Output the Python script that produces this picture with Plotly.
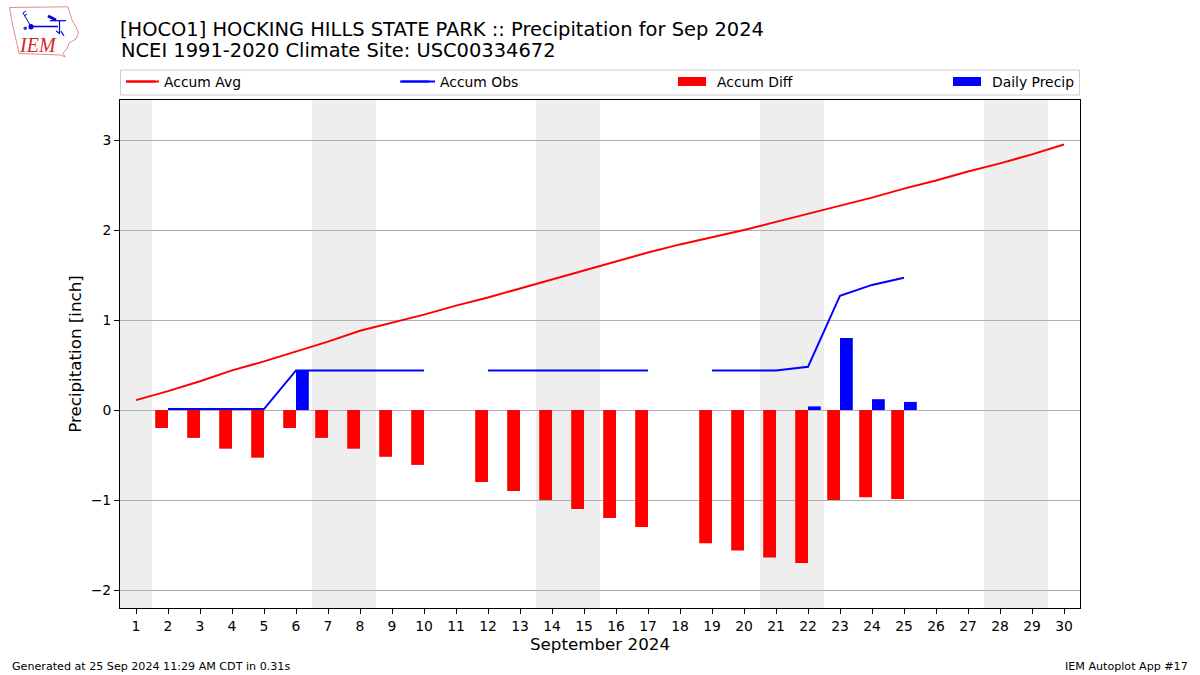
import plotly.graph_objects as go

days = list(range(1, 31))
avg_accum = [0.11,0.21,0.32,0.44,0.54,0.65,0.76,0.88,0.97,1.06,1.16,1.25,1.35,1.45,1.55,
             1.65,1.75,1.84,1.92,2.00,2.09,2.18,2.27,2.36,2.46,2.55,2.65,2.74,2.84,2.95]
obs_accum = [None,0.01,0.01,0.01,0.01,0.44,0.44,0.44,0.44,0.44,None,0.44,0.44,0.44,0.44,0.44,0.44,
             None,0.44,0.44,0.44,0.48,1.27,1.39,1.47,None,None,None,None,None]
accum_diff = [None,-0.20,-0.31,-0.43,-0.53,-0.20,-0.31,-0.43,-0.52,-0.61,None,-0.80,-0.90,-1.00,-1.10,
              -1.20,-1.30,None,-1.48,-1.56,-1.64,-1.70,-1.00,-0.97,-0.99,None,None,None,None,None]
daily_precip = [None,None,None,None,None,0.44,None,None,None,None,None,None,None,None,None,None,None,
                None,None,None,None,0.04,0.80,0.12,0.09,None,None,None,None,None]
weekend_spans = [(0.5,1.5),(6.5,8.5),(13.5,15.5),(20.5,22.5),(27.5,29.5)]

W, H = 1200, 675
L, R, T, B = 120, 1080, 100, 608
FONT = "DejaVu Sans"

def px(x): return (x - L) / (R - L)
def py(y): return (B - y) / (B - T)
def path(pts, close=False):
    s = "M" + " L".join(f"{px(x):.5f},{py(y):.5f}" for x, y in pts)
    return s + (" Z" if close else "")
def legend_at(x):
    return dict(orientation="h", x=px(x), y=py(66), xanchor="left", yanchor="top",
                bgcolor="rgba(0,0,0,0)", borderwidth=0, itemwidth=33, font=dict(size=13.9))
def bar_colors(c):
    # the first day has no bar; its transparent colour leaves the legend's wide swatch visible
    return ["rgba(0,0,0,0)"] + [c] * (len(days) - 1)

fig = go.Figure()
fig.add_trace(go.Scatter(x=days, y=avg_accum, mode="lines", name="Accum Avg", legend="legend", showlegend=True,
                         line=dict(color="#ff0000", width=2)))
fig.add_trace(go.Scatter(x=days, y=obs_accum, mode="lines", name="Accum Obs", legend="legend2", showlegend=True,
                         line=dict(color="#0000ff", width=2), connectgaps=False))
fig.add_trace(go.Bar(x=days, y=accum_diff, name="Accum Diff", legend="legend3", showlegend=True, width=0.4, offset=-0.4,
                     marker=dict(color=bar_colors("#ff0000"), line=dict(width=0))))
fig.add_trace(go.Bar(x=days, y=daily_precip, name="Daily Precip", legend="legend4", showlegend=True, width=0.4, offset=0,
                     marker=dict(color=bar_colors("#0000ff"), line=dict(width=0))))

shapes = []
for a, b in weekend_spans:
    shapes.append(dict(type="rect", xref="x", yref="paper", x0=a, x1=b, y0=0, y1=1,
                       fillcolor="#eeeeee", line_width=0, layer="below"))

# legend frame and wide swatches
shapes.append(dict(type="rect", xref="paper", yref="paper", x0=px(120.5), x1=px(1079.5),
                   y0=py(95), y1=py(70), line=dict(color="#cccccc", width=1),
                   fillcolor="white", layer="below"))
for x0, c in [(678, "#ff0000"), (953, "#0000ff")]:
    shapes.append(dict(type="rect", xref="paper", yref="paper", x0=px(x0), x1=px(x0 + 28),
                       y0=py(86), y1=py(77), fillcolor=c, line_width=0, layer="above"))
for x0, c in [(126, "#ff0000"), (400, "#0000ff")]:
    shapes.append(dict(type="line", xref="paper", yref="paper", x0=px(x0), x1=px(x0 + 29),
                       y0=py(81.5), y1=py(81.5), line=dict(color=c, width=2), layer="above"))

# IEM logo outline and glyph
iowa = [(9.5,7.5),(68,6.8),(69.5,12),(72,20),(76,27),(78.5,33),(76,39),(69,43),(67,49),(63,53),
        (65,57),(61,55),(19,53.5),(17,44),(12,22)]
shapes.append(dict(type="path", xref="paper", yref="paper", path=path(iowa, True),
                   line=dict(color="#e58a8a", width=1), layer="above"))
for seg, w in [([(31,26.5),(58,26.5)],1.5), ([(31,26.5),(23,13)],1), ([(23,13),(26,11)],1),
               ([(24.5,16),(27,14)],1), ([(50,20.7),(66,20.7)],1.2), ([(59.5,21),(59.5,34)],1.2),
               ([(48,16),(56,20)],3), ([(56,31),(59,33)],1.2), ([(61,31),(64,36)],1.2)]:
    shapes.append(dict(type="path", xref="paper", yref="paper", path=path(seg),
                       line=dict(color="#0000dd", width=w), layer="above"))
shapes.append(dict(type="circle", xref="paper", yref="paper", x0=px(28.5), x1=px(33.5),
                   y0=py(29.5), y1=py(24), fillcolor="#0000dd", line_width=0, layer="above"))
shapes.append(dict(type="circle", xref="paper", yref="paper", x0=px(23.5), x1=px(27),
                   y0=py(30), y1=py(26.5), fillcolor="#3333dd", line_width=0, layer="above"))

annotations = [
    dict(text="NCEI 1991-2020 Climate Site: USC00334672", xref="paper", yref="paper",
         x=px(118.5), y=py(51), xanchor="left", yanchor="middle", showarrow=False,
         font=dict(family=FONT, size=19.45, color="black")),
    dict(text="Generated at 25 Sep 2024 11:29 AM CDT in 0.31s", xref="paper", yref="paper",
         x=px(10), y=py(666), xanchor="left", yanchor="middle", showarrow=False,
         font=dict(family=FONT, size=11.12, color="black")),
    dict(text="IEM Autoplot App #17", xref="paper", yref="paper",
         x=px(1190), y=py(666), xanchor="right", yanchor="middle", showarrow=False,
         font=dict(family=FONT, size=11.12, color="black")),
    dict(text="<i>IEM</i>", xref="paper", yref="paper",
         x=px(37.5), y=py(45), xanchor="center", yanchor="middle", showarrow=False,
         font=dict(family="Liberation Serif", size=20, color="#d62728")),
]

fig.update_layout(
    width=W, height=H, autosize=False, showlegend=True,
    margin=dict(l=L, r=W - R, t=T, b=H - B, pad=0),
    paper_bgcolor="white", plot_bgcolor="white",
    font=dict(family=FONT, size=13.9, color="black"),
    barmode="overlay",
    title=dict(text="[HOCO1] HOCKING HILLS STATE PARK :: Precipitation for Sep 2024",
               x=120 / W, xanchor="left", xref="container",
               y=1 - 29 / H, yanchor="middle", yref="container",
               font=dict(family=FONT, size=19.45, color="black")),
    xaxis=dict(range=[0.5, 30.5], tickmode="array", tickvals=days, ticktext=[str(d) for d in days],
               showgrid=False, zeroline=False, showline=True, mirror=True, linecolor="black", linewidth=1,
               ticks="outside", ticklen=5, tickwidth=1, tickcolor="black",
               tickfont=dict(size=13.9), title=dict(text="September 2024", font=dict(size=16.7), standoff=5)),
    yaxis=dict(range=[-2.2, 3.4444], tickmode="array", tickvals=[-2, -1, 0, 1, 2, 3],
               ticktext=["\u22122", "\u22121", "0", "1", "2", "3"],
               showgrid=True, gridcolor="#b0b0b0", gridwidth=1,
               zeroline=True, zerolinecolor="#b0b0b0", zerolinewidth=1,
               showline=True, mirror=True, linecolor="black", linewidth=1,
               ticks="outside", ticklen=5, tickwidth=1, tickcolor="black",
               tickfont=dict(size=13.9), title=dict(text="Precipitation [inch]", font=dict(size=16.7), standoff=4)),
    legend=legend_at(121), legend2=legend_at(397), legend3=legend_at(674), legend4=legend_at(949),
    shapes=shapes, annotations=annotations,
)

fig.write_html("out.html", config=dict(displayModeBar=False),
               post_script="document.body.style.margin='0';document.documentElement.style.overflow='hidden';")
